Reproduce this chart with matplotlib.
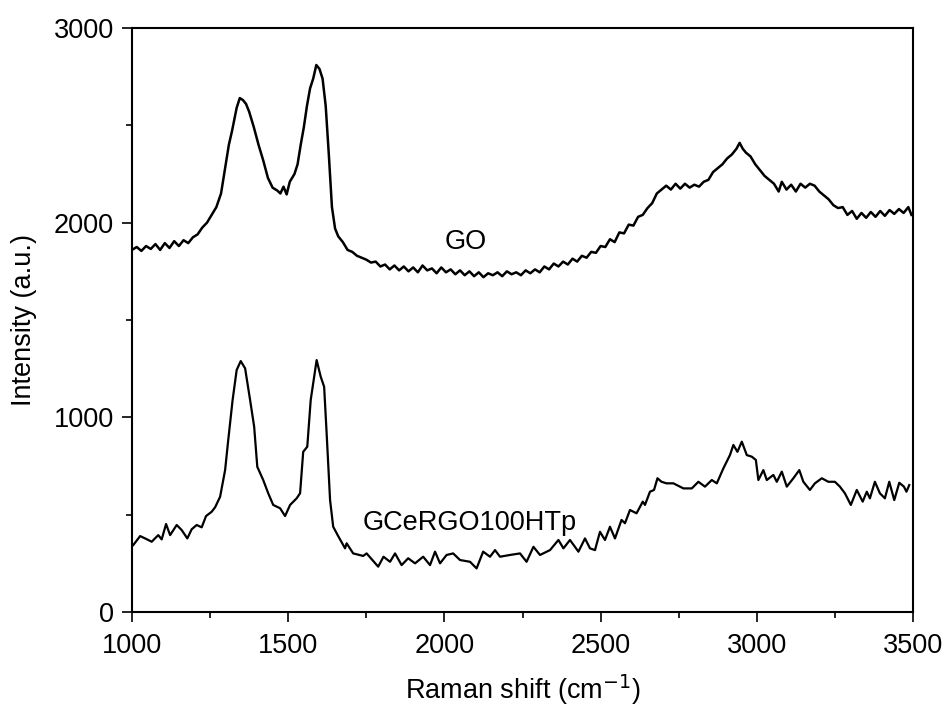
import matplotlib
matplotlib.use('Agg')
import matplotlib.pyplot as plt
from matplotlib.ticker import MultipleLocator

plt.rcParams['font.family'] = ['Liberation Sans', 'DejaVu Sans']

# GO spectrum
go_x = [1000, 1015, 1030, 1045, 1060, 1075, 1090, 1105, 1120, 1135, 1150, 1165, 1180, 1195,
        1210, 1225, 1240, 1255, 1270, 1285, 1300, 1310, 1320, 1335, 1345, 1355, 1365, 1375,
        1390, 1405, 1420, 1435, 1450, 1465, 1475, 1485, 1495, 1505, 1520, 1530, 1540, 1550,
        1560, 1570, 1580, 1590, 1600, 1610, 1620, 1630, 1640, 1650, 1660, 1675, 1690, 1705,
        1720, 1735, 1750, 1765, 1780, 1795, 1810, 1825, 1840, 1855, 1870, 1885, 1900, 1915,
        1930, 1945, 1960, 1975, 1990, 2005, 2020, 2035, 2050, 2065, 2080, 2095, 2110, 2125,
        2140, 2155, 2170, 2185, 2200, 2215, 2230, 2245, 2260, 2275, 2290, 2305, 2320, 2335,
        2350, 2365, 2380, 2395, 2410, 2425, 2440, 2455, 2470, 2485, 2500, 2515, 2530, 2545,
        2560, 2575, 2590, 2605, 2620, 2635, 2650, 2665, 2680, 2695, 2710, 2725, 2740, 2755,
        2770, 2785, 2800, 2815, 2830, 2845, 2860, 2875, 2890, 2905, 2920, 2935, 2945, 2955,
        2965, 2980, 2995, 3010, 3025, 3040, 3055, 3070, 3080, 3095, 3110, 3125, 3140, 3155,
        3170, 3185, 3200, 3215, 3230, 3245, 3260, 3275, 3290, 3305, 3320, 3335, 3350, 3365,
        3380, 3395, 3410, 3425, 3440, 3455, 3470, 3485, 3495]
go_y = [1860, 1875, 1855, 1880, 1865, 1890, 1860, 1895, 1870, 1905, 1880, 1910, 1895, 1925,
        1940, 1975, 2000, 2040, 2080, 2150, 2300, 2400, 2470, 2590, 2640, 2630, 2610, 2570,
        2490, 2400, 2320, 2230, 2180, 2165, 2150, 2185, 2145, 2210, 2250, 2300, 2400, 2490,
        2600, 2690, 2740, 2810, 2790, 2740, 2600, 2350, 2080, 1970, 1930, 1900, 1860, 1850,
        1830, 1820, 1810, 1795, 1800, 1775, 1785, 1760, 1780, 1755, 1775, 1750, 1770, 1745,
        1780, 1755, 1765, 1740, 1770, 1745, 1760, 1735, 1755, 1730, 1750, 1725, 1745, 1720,
        1740, 1730, 1745, 1725, 1750, 1735, 1745, 1730, 1755, 1740, 1760, 1745, 1775, 1760,
        1790, 1775, 1800, 1785, 1815, 1800, 1830, 1820, 1850, 1845, 1880, 1875, 1915, 1900,
        1950, 1945, 1990, 1985, 2030, 2040, 2075, 2100, 2150, 2170, 2190, 2170, 2200, 2175,
        2200, 2180, 2195, 2185, 2210, 2220, 2260, 2280, 2300, 2330, 2350, 2380, 2410, 2380,
        2360, 2340, 2300, 2270, 2240, 2220, 2200, 2160, 2210, 2170, 2195, 2160, 2200, 2180,
        2200, 2190, 2160, 2140, 2120, 2090, 2075, 2080, 2040, 2060, 2020, 2050, 2025, 2055,
        2030, 2060, 2035, 2065, 2045, 2070, 2050, 2080, 2040]

# GCeRGO100HTp spectrum
gce_x = [1004, 1026, 1042, 1063, 1084, 1095, 1109, 1122, 1143, 1159, 1177, 1191, 1207, 1223,
         1237, 1255, 1266, 1282, 1298, 1308, 1322, 1335, 1348, 1362, 1378, 1391, 1401, 1420,
         1436, 1452, 1474, 1490, 1506, 1527, 1538, 1548, 1561, 1572, 1591, 1604, 1615, 1623,
         1634, 1644, 1660, 1682, 1687, 1708, 1740, 1751, 1788, 1805, 1826, 1842, 1863, 1884,
         1906, 1932, 1954, 1970, 1986, 2007, 2028, 2050, 2082, 2103, 2124, 2146, 2162, 2178,
         2210, 2242, 2263, 2285, 2306, 2338, 2365, 2381, 2402, 2429, 2450, 2466, 2482, 2498,
         2514, 2530, 2546, 2567, 2578, 2594, 2615, 2635, 2642, 2658, 2671, 2682, 2695, 2711,
         2733, 2765, 2792, 2813, 2834, 2856, 2872, 2893, 2914, 2925, 2938, 2952, 2968, 2984,
         2997, 3005, 3021, 3032, 3053, 3064, 3080, 3096, 3117, 3136, 3149, 3170, 3186, 3208,
         3229, 3250, 3266, 3282, 3301, 3320, 3339, 3352, 3362, 3378, 3394, 3410, 3424, 3440,
         3456, 3471, 3479, 3488]
gce_y = [344, 390, 378, 361, 395, 373, 452, 395, 447, 421, 378, 425, 447, 435,
         493, 515, 538, 592, 729, 883, 1089, 1243, 1289, 1252, 1089, 952, 746, 678,
         610, 550, 533, 493, 550, 584, 610, 823, 849, 1089, 1294, 1209, 1157, 918,
         575, 438, 390, 327, 353, 301, 288, 301, 233, 284, 258, 301, 241, 276,
         250, 284, 241, 310, 250, 293, 301, 267, 258, 224, 310, 284, 318, 284,
         293, 301, 258, 335, 293, 318, 370, 327, 370, 310, 378, 327, 318, 412,
         370, 438, 378, 473, 456, 524, 507, 567, 550, 618, 627, 687, 669, 661,
         661, 635, 635, 669, 644, 678, 661, 738, 806, 858, 823, 875, 806, 798,
         781, 678, 729, 678, 704, 669, 721, 644, 687, 729, 669, 627, 661, 687,
         669, 669, 644, 610, 550, 627, 567, 618, 584, 669, 610, 584, 669, 575,
         664, 644, 618, 652]

fig = plt.figure(figsize=(9.47, 7.09), dpi=100)
ax = fig.add_axes([0.1394, 0.1368, 0.8247, 0.8237])

ax.plot(go_x, go_y, color='black', lw=1.8)
ax.plot(gce_x, gce_y, color='black', lw=1.6)

ax.text(2069, 1900, 'GO', fontsize=19.5, ha='center', va='center')
ax.text(1739, 421, 'GCeRGO100HTp', fontsize=19.5, ha='left', va='baseline')

ax.set_xlim(1000, 3500)
ax.set_ylim(0, 3000)
ax.xaxis.set_major_locator(MultipleLocator(500))
ax.xaxis.set_minor_locator(MultipleLocator(250))
ax.yaxis.set_major_locator(MultipleLocator(1000))
ax.yaxis.set_minor_locator(MultipleLocator(500))
ax.tick_params(which='both', direction='out', top=False, right=False, width=1.2,
               labelsize=19.5)
ax.tick_params(which='major', length=7)
ax.tick_params(axis='x', which='major', pad=8)
ax.tick_params(axis='y', which='major', pad=6)
ax.tick_params(which='minor', length=4.5)
for s in ax.spines.values():
    s.set_linewidth(1.5)

ax.set_xlabel('Raman shift (cm$^{-1}$)', fontsize=19.5, labelpad=10)
ax.set_ylabel('Intensity (a.u.)', fontsize=19.5, labelpad=12)

fig.savefig('out.png', dpi=100)
